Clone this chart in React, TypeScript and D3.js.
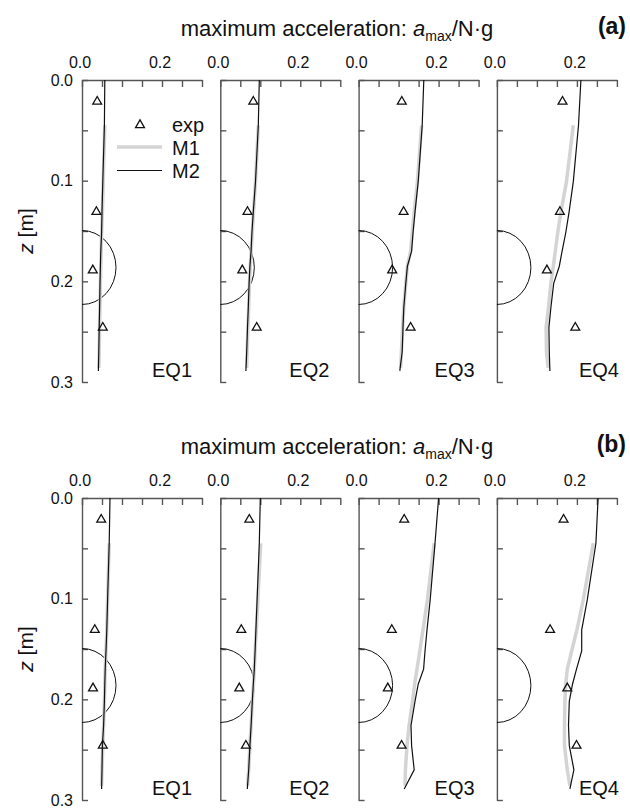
import React, { useEffect, useRef } from 'react';
import * as d3 from 'd3';

// earthquake labels and depths (m)
const eqNames = ['EQ1', 'EQ2', 'EQ3', 'EQ4'];
const expDepth = [0.0215, 0.131, 0.189, 0.246];
const m2Depth = [0, 0.045, 0.101, 0.131, 0.152, 0.17, 0.185, 0.202, 0.226, 0.246, 0.27, 0.289];
const m1Depth = [0.045, 0.101, 0.131, 0.152, 0.17, 0.185, 0.202, 0.226, 0.246, 0.27, 0.286];
const xTickLabels = [0, 0.2];
const zTickLabels = [0, 0.1, 0.2, 0.3];

// (a) measured and computed a_max / N·g
const expA = [
  [0.038, 0.036, 0.027, 0.052],
  [0.0825, 0.068, 0.055, 0.091],
  [0.108, 0.1125, 0.084, 0.13],
  [0.164, 0.1575, 0.125, 0.196],
];
const m1A = [
  [0.057, 0.053, 0.051, 0.049, 0.048, 0.047, 0.046, 0.045, 0.044, 0.043, 0.042],
  [0.095, 0.088, 0.083, 0.08, 0.077, 0.075, 0.073, 0.071, 0.069, 0.067, 0.066],
  [0.1575, 0.147, 0.139, 0.134, 0.13, 0.122, 0.118, 0.113, 0.11, 0.107, 0.105],
  [0.191, 0.174, 0.16, 0.152, 0.146, 0.141, 0.135, 0.129, 0.123, 0.124, 0.128],
];
const m2A = [
  [0.057, 0.056, 0.052, 0.05, 0.049, 0.047, 0.046, 0.045, 0.044, 0.043, 0.042, 0.041],
  [0.0975, 0.095, 0.088, 0.0825, 0.079, 0.077, 0.074, 0.072, 0.07, 0.068, 0.066, 0.064],
  [0.163, 0.159, 0.149, 0.141, 0.136, 0.1325, 0.122, 0.118, 0.113, 0.111, 0.109, 0.103],
  [0.21, 0.204, 0.191, 0.1805, 0.172, 0.163, 0.156, 0.142, 0.135, 0.13, 0.131, 0.1325],
];

// (b)
const expB = [
  [0.048, 0.032, 0.0275, 0.052],
  [0.0725, 0.0525, 0.0475, 0.064],
  [0.114, 0.083, 0.073, 0.1075],
  [0.1667, 0.133, 0.176, 0.199],
];
const m1B = [
  [0.068, 0.064, 0.062, 0.06, 0.058, 0.057, 0.056, 0.054, 0.052, 0.05, 0.049],
  [0.101, 0.094, 0.09, 0.087, 0.085, 0.083, 0.08, 0.077, 0.074, 0.071, 0.068],
  [0.189, 0.172, 0.161, 0.153, 0.146, 0.14, 0.135, 0.126, 0.121, 0.117, 0.116],
  [0.241, 0.216, 0.2, 0.187, 0.176, 0.172, 0.17, 0.169, 0.169, 0.176, 0.1825],
];
const m2B = [
  [0.07, 0.068, 0.064, 0.062, 0.06, 0.058, 0.057, 0.056, 0.054, 0.051, 0.05, 0.049],
  [0.1, 0.0975, 0.092, 0.089, 0.087, 0.085, 0.0825, 0.08, 0.077, 0.074, 0.071, 0.0675],
  [0.2, 0.191, 0.179, 0.171, 0.166, 0.1625, 0.149, 0.141, 0.131, 0.1325, 0.139, 0.114],
  [0.253, 0.2475, 0.226, 0.212, 0.212, 0.199, 0.189, 0.181, 0.179, 0.181, 0.1925, 0.1825],
];

// model pile (semicircle at the wall)
const pileTop = 0.1495;
const pileBottom = 0.223;
const pileWidth = 0.085;

const FONT = '"Liberation Sans", Arial, Helvetica, sans-serif';
const INK = '#111';
const AXIS = '#555';
const M1_COLOR = '#d4d4d4';

const App = () => {
  const ref = useRef<SVGSVGElement>(null);

  useEffect(() => {
    const width = 630;
    const height = 809;
    const svg = d3.select(ref.current).attr('width', width).attr('height', height);
    svg.selectAll('*').remove();

    const rows = [
      { tag: '(a)', top: 80, exp: expA, m1: m1A, m2: m2A, legend: true },
      { tag: '(b)', top: 498, exp: expB, m1: m1B, m2: m2B, legend: false },
    ];
    const panelLeft = 82;
    const panelStep = 138.3;
    const panelW = 120;
    const panelH = 302;
    const eqLabelDx = [70, 69, 76, 82];

    rows.forEach(row => {
      const g = svg.append('g');

      // title
      const title = g.append('text')
        .attr('x', 337)
        .attr('y', row.top - 44)
        .attr('text-anchor', 'middle')
        .style('font-family', FONT)
        .style('font-size', '22px')
        .style('fill', INK);
      title.append('tspan').text('maximum acceleration: ');
      title.append('tspan').style('font-style', 'italic').text('a');
      title.append('tspan').attr('dy', 5).style('font-size', '14px').text('max');
      title.append('tspan').attr('dy', -5).text('/N·g');

      g.append('text')
        .attr('x', 626)
        .attr('y', row.top - 46)
        .attr('text-anchor', 'end')
        .style('font-family', FONT)
        .style('font-size', '23px')
        .style('font-weight', 'bold')
        .style('fill', INK)
        .text(row.tag);

      // z label
      g.append('text')
        .attr('transform', `translate(33,${row.top + panelH / 2}) rotate(-90)`)
        .attr('text-anchor', 'middle')
        .style('font-family', FONT)
        .style('font-size', '21px')
        .style('fill', INK)
        .call(t => {
          t.append('tspan').style('font-style', 'italic').text('z');
          t.append('tspan').text(' [m]');
        });

      eqNames.forEach((eq, i) => {
        const left = panelLeft + i * panelStep;
        const x = d3.scaleLinear().domain([0, 0.3]).range([left, left + panelW]);
        const y = d3.scaleLinear().domain([0, 0.3]).range([row.top, row.top + panelH]);
        const ticks = d3.range(0, 0.3001, 0.05);

        const pg = g.append('g');

        // top axis, ticks pointing in
        const ax = pg.append('g')
          .attr('transform', `translate(0,${row.top})`)
          .call(d3.axisTop(x).tickValues(ticks).tickSize(-7).tickSizeOuter(0).tickFormat(() => ''));
        ax.selectAll('path, line').attr('stroke', AXIS).attr('stroke-width', 1.4);

        // left axis, ticks pointing in
        const ay = pg.append('g')
          .attr('transform', `translate(${left},0)`)
          .call(d3.axisLeft(y).tickValues(ticks).tickSize(-6).tickSizeOuter(0).tickFormat(() => ''));
        ay.selectAll('path, line').attr('stroke', AXIS).attr('stroke-width', 1.4);

        pg.selectAll('.xlab')
          .data(xTickLabels)
          .enter()
          .append('text')
          .attr('x', d => x(d) - 2)
          .attr('y', row.top - 12)
          .attr('text-anchor', 'middle')
          .style('font-family', FONT)
          .style('font-size', '16px')
          .style('fill', INK)
          .text(d => d3.format('.1f')(d));

        if (i === 0) {
          pg.selectAll('.zlab')
            .data(zTickLabels)
            .enter()
            .append('text')
            .attr('x', left - 9)
            .attr('y', d => y(d))
            .attr('dy', '0.36em')
            .attr('text-anchor', 'end')
            .style('font-family', FONT)
            .style('font-size', '16px')
            .style('fill', INK)
            .text(d => d3.format('.1f')(d));
        }

        // pile semicircle
        const rx = x(pileWidth) - x(0);
        const ry = (y(pileBottom) - y(pileTop)) / 2;
        pg.append('path')
          .attr('d', `M${x(0)},${y(pileTop)} A${rx},${ry} 0 0 1 ${x(0)},${y(pileBottom)}`)
          .attr('fill', 'none')
          .attr('stroke', INK)
          .attr('stroke-width', 1);

        // M1
        const m1Line = d3.line<number>()
          .x(d => x(d))
          .y((d, k) => y(m1Depth[k]));
        pg.append('path')
          .attr('d', m1Line(row.m1[i]))
          .attr('fill', 'none')
          .attr('stroke', M1_COLOR)
          .attr('stroke-width', 3.5);

        // M2
        const m2Line = d3.line<number>()
          .x(d => x(d))
          .y((d, k) => y(m2Depth[k]));
        pg.append('path')
          .attr('d', m2Line(row.m2[i]))
          .attr('fill', 'none')
          .attr('stroke', INK)
          .attr('stroke-width', 1.2);

        // exp
        pg.selectAll('.exp')
          .data(row.exp[i])
          .enter()
          .append('path')
          .attr('d', d3.symbol().type(d3.symbolTriangle).size(34)())
          .attr('transform', (d, k) => `translate(${x(d)},${y(expDepth[k])})`)
          .attr('fill', 'none')
          .attr('stroke', INK)
          .attr('stroke-width', 1.3);

        pg.append('text')
          .attr('x', left + eqLabelDx[i])
          .attr('y', row.top + panelH - 5)
          .style('font-family', FONT)
          .style('font-size', '20px')
          .style('fill', INK)
          .text(eq);
      });

      if (row.legend) {
        const lg = g.append('g').attr('transform', `translate(117,${row.top + 45})`);
        lg.append('path')
          .attr('d', d3.symbol().type(d3.symbolTriangle).size(34)())
          .attr('transform', 'translate(23,0)')
          .attr('fill', 'none')
          .attr('stroke', INK)
          .attr('stroke-width', 1.3);
        lg.append('line')
          .attr('x1', 0).attr('x2', 45).attr('y1', 22).attr('y2', 22)
          .attr('stroke', M1_COLOR).attr('stroke-width', 3.5);
        lg.append('line')
          .attr('x1', 0).attr('x2', 45).attr('y1', 45.5).attr('y2', 45.5)
          .attr('stroke', INK).attr('stroke-width', 1.2);
        lg.selectAll('.ltext')
          .data(['exp', 'M1', 'M2'])
          .enter()
          .append('text')
          .attr('x', 55)
          .attr('y', (d, k) => k * 23)
          .attr('dy', '0.35em')
          .style('font-family', FONT)
          .style('font-size', '20px')
          .style('fill', INK)
          .text(d => d);
      }
    });
  }, []);

  return <svg ref={ref} style={{ position: 'absolute', left: 0, top: 0 }} />;
};

export default App;
